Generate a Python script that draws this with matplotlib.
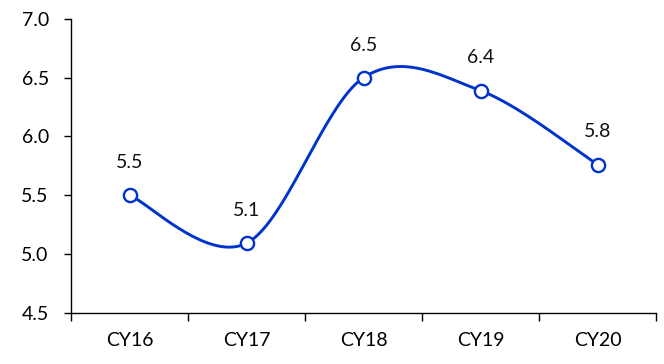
import numpy as np
import matplotlib
matplotlib.use("Agg")
import matplotlib.pyplot as plt

categories = ["CY16", "CY17", "CY18", "CY19", "CY20"]
values = [5.5, 5.09, 6.5, 6.39, 5.76]
labels = ["5.5", "5.1", "6.5", "6.4", "5.8"]
y_ticks = [4.5, 5.0, 5.5, 6.0, 6.5, 7.0]

plt.rcParams['font.family'] = ['Lato', 'DejaVu Sans']

def catmull_rom(xs, ys, n=40):
    xs = np.asarray(xs, float); ys = np.asarray(ys, float)
    px = np.concatenate([[xs[0]], xs, [xs[-1]]])
    py = np.concatenate([[ys[0]], ys, [ys[-1]]])
    outx, outy = [], []
    t = np.linspace(0, 1, n)
    for i in range(1, len(px) - 2):
        p0, p1, p2, p3 = (np.array([px[j], py[j]]) for j in (i - 1, i, i + 1, i + 2))
        c1 = p1 + (p2 - p0) / 6.0
        c2 = p2 - (p3 - p1) / 6.0
        b = ((1 - t) ** 3)[:, None] * p1 + (3 * (1 - t) ** 2 * t)[:, None] * c1 \
            + (3 * (1 - t) * t ** 2)[:, None] * c2 + (t ** 3)[:, None] * p2
        outx.append(b[:, 0]); outy.append(b[:, 1])
    return np.concatenate(outx), np.concatenate(outy)

fig = plt.figure(figsize=(6.64, 3.64), dpi=100)
ax = fig.add_axes([71 / 664, 1 - 312.5 / 364, (656 - 71) / 664, (312.5 - 19) / 364])

x = np.arange(len(categories))
sx, sy = catmull_rom(x, values)
color = "#0033CC"
ax.plot(sx, sy, color=color, lw=2.1, solid_capstyle='round', zorder=2)
ax.plot(x, values, linestyle='none', marker='o', markersize=9.5, markerfacecolor='white',
        markeredgecolor=color, markeredgewidth=1.7, zorder=3)
for xi, v, lab in zip(x, values, labels):
    ax.annotate(lab, (xi, v), xytext=(0, 23.5), textcoords='offset points',
                ha='center', va='center', fontsize=14, color='#111111')

ax.set_xlim(-0.5, len(categories) - 0.5)
ax.set_ylim(4.5, 7.0)
ax.set_yticks(y_ticks)
ax.set_yticklabels([f"{t:.1f}" for t in y_ticks])
ax.set_xticks(x)
ax.set_xticklabels(categories)
ax.set_xticks(np.arange(len(categories) + 1) - 0.5, minor=True)
ax.tick_params(axis='x', which='major', length=0, labelsize=14, pad=14)
ax.tick_params(axis='x', which='minor', length=6, width=1, direction='out')
ax.tick_params(axis='y', length=5, width=1, labelsize=14, pad=11)
for s in ['top', 'right']:
    ax.spines[s].set_visible(False)
for s in ['left', 'bottom']:
    ax.spines[s].set_linewidth(1)
    ax.spines[s].set_color('black')

fig.savefig("out.png", dpi=100)
